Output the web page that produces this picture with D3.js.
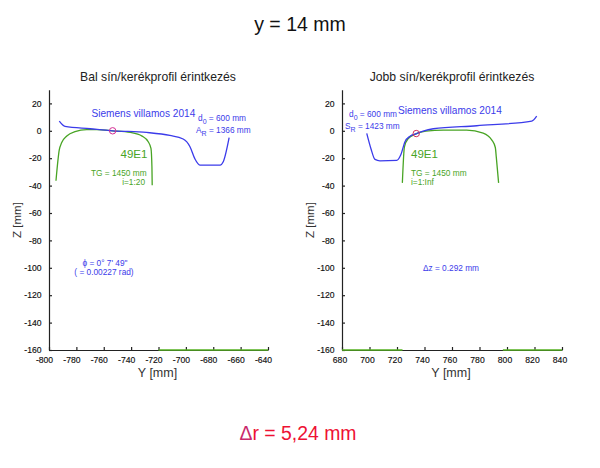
<!DOCTYPE html>
<html>
<head>
<meta charset="utf-8">
<script src="https://cdn.jsdelivr.net/npm/d3@7"></script>
<style>
  body { margin: 0; background: #fff; }
  text { font-family: "Liberation Sans", Arial, sans-serif; }
</style>
</head>
<body>
<div id="chart"></div>
<script>
// values, Y and Z in mm
const zTicks = [20, 0, -20, -40, -60, -80, -100, -120, -140, -160];
const leftYTicks = [-800, -780, -760, -740, -720, -700, -680, -660, -640];
const rightYTicks = [680, 700, 720, 740, 760, 780, 800, 820, 840];

const leftWheelY = [-792.5, -788.3, -770, -753.5, -728.7, -711.7, -702, -697, -693.4, -689.8, -675, -672.7, -668.4];
const leftWheelZ = [7, 3.2, 1.5, 0, -1.2, -3.4, -6, -11.6, -20.5, -25, -25, -22.6, -5];
const leftRailY = [-794.9, -792.5, -790.7, -787, -781, -772.5, -765, -753.5, -740.6, -732, -727.5, -725.5, -724.8, -724.6];
const leftRailZ = [-36.5, -14, -8.6, -3.8, -0.6, 0.8, 0.8, 0, -1.2, -3.9, -8, -12.9, -26.3, -39.7];

const rightWheelY = [698, 701, 704, 707.6, 719.8, 722.7, 725.8, 729.5, 733.8, 739, 746.4, 778, 818, 821.6];
const rightWheelZ = [-1.9, -12.9, -20.9, -21.9, -21.6, -17.7, -8, -3.9, -2.2, -0.2, 1.5, 3.7, 7.1, 10.7];
const rightRailY = [723.9, 725.4, 728.2, 733.8, 741, 753.7, 770.7, 782.7, 789, 791.5, 792.2, 793.9];
const rightRailZ = [-38, -11.7, -5.6, -2.2, -0.2, 0.5, 0.5, -1.7, -6.8, -12.2, -19, -38];

const leftBase = [[-720, -640]];
const rightBase = [[680, 724], [797, 840]];

const blue = '#3b3bea';
const green = '#48a424';

const width = 600, height = 468;
const svg = d3.select('#chart').append('svg')
  .attr('width', width)
  .attr('height', height);

function label(x, y, str, size, color, anchor) {
  return svg.append('text')
    .attr('x', x).attr('y', y)
    .attr('font-size', size)
    .attr('fill', color)
    .attr('text-anchor', anchor || 'start')
    .text(str);
}

// text with a subscript after the first letter
function subLabel(x, y, first, sub, rest) {
  const t = svg.append('text')
    .attr('x', x).attr('y', y)
    .attr('font-size', 8.3)
    .attr('fill', blue);
  t.append('tspan').text(first);
  t.append('tspan').attr('dy', 3).attr('font-size', 7).text(sub);
  t.append('tspan').attr('dy', -3).text(rest);
}

function panel(o) {
  const xScale = d3.scaleLinear().domain(o.yDomain).range([o.left, o.left + o.w]);
  const yScale = d3.scaleLinear().domain([-160, 30]).range([350, 89.7]);
  const hyphen = d => String(d); // reference has plain hyphens, not d3's minus sign

  const line = d3.line()
    .x(d => xScale(d[0]))
    .y(d => yScale(d[1]))
    .curve(d3.curveMonotoneX);

  const xAxis = svg.append('g')
    .attr('transform', `translate(0, ${yScale(-160)})`)
    .call(d3.axisBottom(xScale).tickValues(o.yTicks).tickFormat(hyphen).tickSizeInner(-3).tickSizeOuter(0).tickPadding(7));
  const yAxis = svg.append('g')
    .attr('transform', `translate(${o.left}, 0)`)
    .call(d3.axisLeft(yScale).tickValues(zTicks).tickFormat(hyphen).tickSizeInner(-3).tickSizeOuter(0).tickPadding(7.5));

  [xAxis, yAxis].forEach(a => {
    a.selectAll('path, line').attr('stroke', '#222').attr('stroke-width', 1.2);
    a.selectAll('text').attr('font-size', 8.6).attr('fill', '#111')
      .attr('stroke', '#111').attr('stroke-width', 0.15)
      .attr('font-family', '"Liberation Sans", Arial, sans-serif');
  });
  // x labels sit a little left of their ticks
  xAxis.selectAll('text').attr('dx', o.labelShift);

  svg.selectAll(null)
    .data(o.base)
    .enter().append('line')
      .attr('x1', d => xScale(d[0]))
      .attr('x2', d => xScale(d[1]))
      .attr('y1', yScale(-160))
      .attr('y2', yScale(-160))
      .attr('stroke', '#55b020')
      .attr('stroke-width', 1.6);

  svg.append('path')
    .attr('d', line(d3.zip(o.railY, o.railZ)))
    .attr('fill', 'none').attr('stroke', green).attr('stroke-width', 1.3);
  svg.append('path')
    .attr('d', line(d3.zip(o.wheelY, o.wheelZ)))
    .attr('fill', 'none').attr('stroke', blue).attr('stroke-width', 1.3);

  svg.append('circle')
    .attr('cx', xScale(o.contact[0]))
    .attr('cy', yScale(o.contact[1]))
    .attr('r', 3.2)
    .attr('fill', 'none')
    .attr('stroke', o.contactColor)
    .attr('stroke-width', 1);

  label(o.left + o.w / 2 - 1, 376.5, 'Y [mm]', 12.5, '#333', 'middle');
  label(0, 0, 'Z [mm]', 11.5, '#333', 'middle')
    .attr('transform', `translate(${o.left - 28}, 220) rotate(-90)`);
}

panel({
  left: 49, w: 219, labelShift: -5,
  yDomain: [-800, -640], yTicks: leftYTicks,
  wheelY: leftWheelY, wheelZ: leftWheelZ,
  railY: leftRailY, railZ: leftRailZ,
  base: leftBase,
  contact: [-753.5, 0], contactColor: '#d42c94'
});
panel({
  left: 342, w: 220, labelShift: -2.5,
  yDomain: [680, 840], yTicks: rightYTicks,
  wheelY: rightWheelY, wheelZ: rightWheelZ,
  railY: rightRailY, railZ: rightRailZ,
  base: rightBase,
  contact: [734, -2], contactColor: '#cf2f5a'
});

label(300, 31, 'y = 14 mm', 19.5, '#111', 'middle');
label(158, 81, 'Bal sín/kerékprofil érintkezés', 12.2, '#222', 'middle');
label(452, 81, 'Jobb sín/kerékprofil érintkezés', 12.2, '#222', 'middle');

label(91.5, 117, 'Siemens villamos 2014', 10.1, blue);
subLabel(198, 120.5, 'd', '0', ' = 600 mm');
subLabel(196, 132.5, 'A', 'R', ' = 1366 mm');
label(120.5, 158, '49E1', 11.5, green);
label(91, 175.5, 'TG = 1450 mm', 8.3, green);
label(145, 185, 'i=1:20', 8.3, green, 'end');
label(105, 265.5, 'ϕ = 0° 7\' 49"', 8.3, blue, 'middle');
label(104, 275, '( = 0.00227 rad)', 8.3, blue, 'middle');

label(398, 114, 'Siemens villamos 2014', 10.1, blue);
subLabel(349, 116.5, 'd', '0', ' = 600 mm');
subLabel(345, 129, 'S', 'R', ' = 1423 mm');
label(411, 158, '49E1', 11.5, green);
label(411, 175.5, 'TG = 1450 mm', 8.3, green);
label(411, 185, 'i=1:Inf', 8.3, green);
label(451, 271, 'Δz = 0.292 mm', 8.3, blue, 'middle');

const dr = label(298, 440, '', 19.4, '#ee1133', 'middle');
dr.append('tspan').attr('fill', '#c92a6c').text('Δ');
dr.append('tspan').text('r = 5,24 mm');
</script>
</body>
</html>
